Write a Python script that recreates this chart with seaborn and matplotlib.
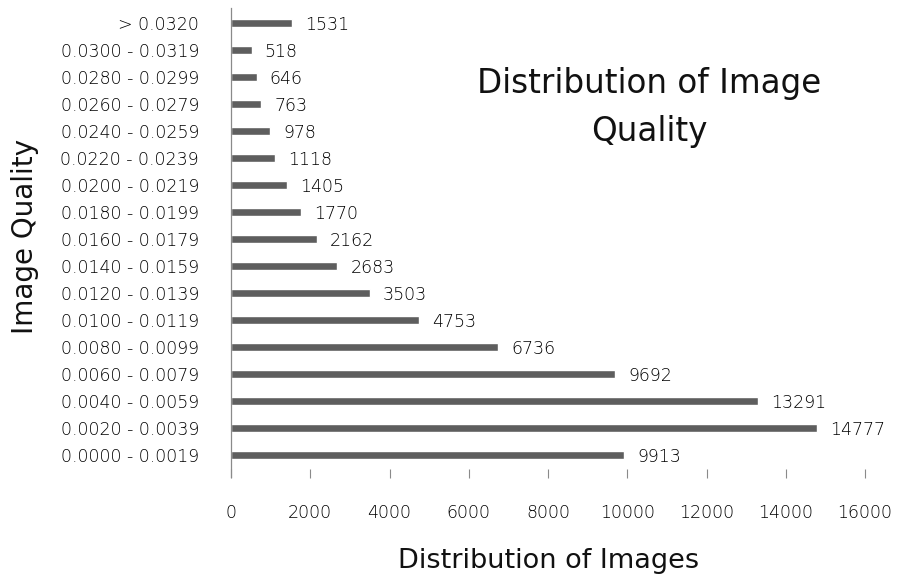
import matplotlib
matplotlib.use("Agg")
import matplotlib.pyplot as plt
import seaborn as sns
import pandas as pd

# Image quality bins (top to bottom) and number of images in each
quality_bins = [
    "> 0.0320", "0.0300 - 0.0319", "0.0280 - 0.0299", "0.0260 - 0.0279",
    "0.0240 - 0.0259", "0.0220 - 0.0239", "0.0200 - 0.0219", "0.0180 - 0.0199",
    "0.0160 - 0.0179", "0.0140 - 0.0159", "0.0120 - 0.0139", "0.0100 - 0.0119",
    "0.0080 - 0.0099", "0.0060 - 0.0079", "0.0040 - 0.0059", "0.0020 - 0.0039",
    "0.0000 - 0.0019",
]
image_counts = [1531, 518, 646, 763, 978, 1118, 1405, 1770, 2162, 2683,
                3503, 4753, 6736, 9692, 13291, 14777, 9913]
x_ticks = [0, 2000, 4000, 6000, 8000, 10000, 12000, 14000, 16000]

df = pd.DataFrame({"bin": quality_bins, "count": image_counts})

sns.set_theme(style="white")
plt.rcParams["font.family"] = ["DejaVu Sans"]

W, H = 899, 578
fig = plt.figure(figsize=(W / 100, H / 100), dpi=100)
ax = fig.add_axes([231 / W, 1 - 468.5 / H, (865 - 231) / W, 459 / H])

sns.barplot(data=df, x="count", y="bin", orient="h", color="#5e5e5e",
            saturation=1, width=0.26, ax=ax)

ax.set_xlim(0, 16000)
ax.set_ylim(len(quality_bins) - 0.5, -0.5)

small = dict(fontsize=12.5, color="#000000", fontweight="light")

# value labels beside each bar
for i, v in enumerate(image_counts):
    ax.annotate(f"{v}", xy=(v, i), xytext=(9.5, -1.5), textcoords="offset points",
                ha="left", va="center", **small)

ax.set_xticks(x_ticks)
ax.set_xticklabels([str(t) for t in x_ticks], **small)
ax.set_yticks(range(len(quality_bins)))
ax.set_yticklabels(quality_bins, **small)
ax.tick_params(axis="x", which="both", bottom=True, length=6.5, width=0.8,
               color="#8a8a8a", pad=19, direction="out")
ax.tick_params(axis="y", left=False, pad=17)

for side in ["top", "right", "bottom"]:
    ax.spines[side].set_visible(False)
ax.spines["left"].set_color("#8a8a8a")
ax.spines["left"].set_linewidth(0.9)
ax.spines["left"].set_bounds(len(quality_bins) - 0.5 + 9 / 27, -0.5 - 1.5 / 27)

ax.set_xlabel("")
ax.set_ylabel("")

big = dict(family="DejaVu Sans", color="#111111")
fig.text(549 / W, 1 - 568 / H, "Distribution of Images", ha="center",
         va="baseline", fontsize=19.5, **big)
fig.text(33 / W, 1 - 236.5 / H, "Image Quality", ha="center", va="baseline",
         rotation=90, rotation_mode="anchor", fontsize=20, **big)
fig.text(649.5 / W, 1 - 93 / H, "Distribution of Image", ha="center",
         va="baseline", fontsize=23.5, **big)
fig.text(649.5 / W, 1 - 141 / H, "Quality", ha="center",
         va="baseline", fontsize=23.5, **big)

fig.savefig("out.png", dpi=100, facecolor="white")
